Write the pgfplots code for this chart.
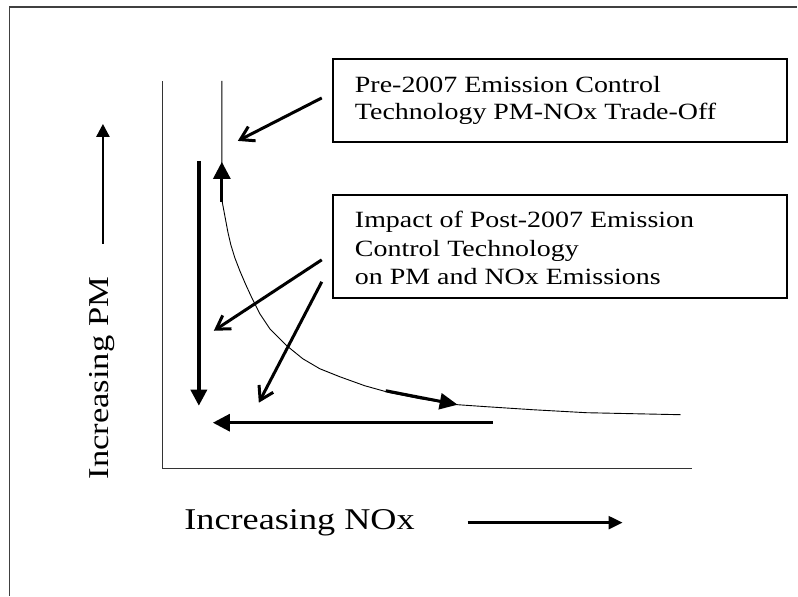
\documentclass[border=0pt]{standalone}
\usepackage{fontspec}
\setmainfont{Liberation Serif}
\newfontfamily\wide{Liberation Serif}[FakeStretch=1.2]
\usepackage{pgfplots}
\pgfplotsset{compat=1.18}
\usetikzlibrary{arrows.meta}
\begin{document}
\begin{tikzpicture}
\begin{axis}[
  scale only axis, width=529pt, height=388pt,
  xmin=163, xmax=692, ymin=127, ymax=515,
  axis x line=bottom, axis y line=left,
  axis line style={-, line width=1.1pt, draw=black!80},
  xtick=\empty, ytick=\empty,
  clip=false,
  xlabel={Increasing NOx}, ylabel={Increasing PM},
  xlabel style={at={(rel axis cs:0.0340,-0.157)}, anchor=base west, font=\wide\fontsize{30.2}{36}\selectfont},
  ylabel style={at={(rel axis cs:-0.1021,0.2332)}, anchor=base, font=\wide\fontsize{28.8}{34}\selectfont},
]
% bounding canvas
\path (axis cs:0,0) -- (axis cs:798,596);
% outer frame
\addplot[draw=black!75, line width=1.1pt, forget plot] coordinates {(9.5,0) (9.5,589) (798,589)};

% trade-off curve (pixel coords, y' = 596 - y)
\addplot[black, line width=0.9pt, forget plot] coordinates {
 (222,515) (222,396) (225,380) (228,364) (231,351) (235,338) (240,325) (246,311) (252,298)
 (260,282) (270,267) (287,250) (303,237) (320,227) (340,219) (365,210) (390,203)
 (420,197) (458,191) (487,189) (533,186) (587,183) (681,181)};

% thick arrows
\addplot[black, line width=3pt, -{Triangle[length=17pt,width=17pt]}, forget plot] coordinates {(222,394) (222,434)};
\addplot[black, line width=3.5pt, -{Triangle[length=16pt,width=16pt]}, forget plot] coordinates {(199,435) (199,190)};
\addplot[black, line width=3pt, -{Triangle[length=17pt,width=17pt]}, forget plot] coordinates {(493,173) (213,173)};
\addplot[black, line width=3pt, -{Triangle[length=18pt,width=16pt]}, forget plot] coordinates {(386,205) (458,191)};

% pointer arrows
\addplot[black, line width=3pt, -{Straight Barb[length=13pt,width=16pt]}, forget plot] coordinates {(322,498) (238,455)};
\addplot[black, line width=3pt, -{Straight Barb[length=13pt,width=16pt]}, forget plot] coordinates {(322,336) (214,265)};
\addplot[black, line width=3pt, -{Straight Barb[length=13pt,width=16pt]}, forget plot] coordinates {(322,314) (259,193)};

% label arrows
\addplot[black, line width=2.5pt, -{Triangle[length=13pt,width=13pt]}, forget plot] coordinates {(103,352) (103,472)};
\addplot[black, line width=2.3pt, -{Triangle[length=14pt,width=13pt]}, forget plot] coordinates {(468,73) (623,73)};

% boxes
\draw[black, line width=2pt] (axis cs:333,537) rectangle (axis cs:788,454);
\draw[black, line width=2pt] (axis cs:333,401) rectangle (axis cs:788,298);

\begin{scope}[every node/.style={anchor=base west, inner sep=0pt, font=\wide\fontsize{23.3}{27}\selectfont}]
\node at (axis cs:355,503) {Pre-2007 Emission Control};
\node at (axis cs:355,476) {Technology PM-NOx Trade-Off};
\node at (axis cs:355,368) {Impact of Post-2007 Emission};
\node at (axis cs:355,339.5) {Control Technology};
\node at (axis cs:355,311) {on PM and NOx Emissions};
\end{scope}
\end{axis}
\end{tikzpicture}
\end{document}
